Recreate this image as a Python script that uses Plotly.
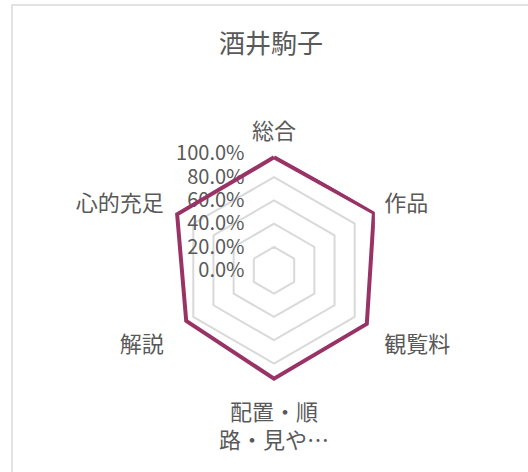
import plotly.graph_objects as go

title = "酒井駒子"
categories = ["総合", "作品", "観覧料", "配置・順<br>路・見や…", "解説", "心的充足"]
values = [0.97, 0.99, 0.92, 0.93, 0.87, 0.96]
tick_vals = [0, 0.2, 0.4, 0.6, 0.8, 1.0]
tick_text = ["0.0%", "20.0%", "40.0%", "60.0%", "80.0%", "100.0%"]

W, H = 528, 472
font_family = "Noto Sans CJK JP"
text_color = "#595959"

fig = go.Figure()
fig.add_trace(go.Scatterpolar(
    r=values + values[:1],
    theta=categories + categories[:1],
    mode="lines",
    line=dict(color="#993366", width=4),
    showlegend=False,
    hoverinfo="skip",
))

cx, cy, R = 274, 270.3, 116.5
fig.update_layout(
    width=W, height=H,
    margin=dict(l=0, r=0, t=0, b=0),
    paper_bgcolor="white",
    plot_bgcolor="white",
    font=dict(family=font_family, color=text_color, size=20),
    title=dict(text=title, x=271 / W, y=1 - 43.5 / H, xanchor="center", yanchor="middle",
               font=dict(size=26, color=text_color, family=font_family)),
    polar=dict(
        domain=dict(x=[(cx - R) / W, (cx + R) / W], y=[(H - cy - R) / H, (H - cy + R) / H]),
        bgcolor="white",
        gridshape="linear",
        radialaxis=dict(
            range=[0, 1], tickvals=tick_vals, ticktext=tick_text,
            angle=90, tickangle=90, side="counterclockwise",
            showline=False, ticks="outside", ticklen=22, tickcolor="rgba(0,0,0,0)",
            showgrid=True, gridcolor="#D9D9D9", gridwidth=1.8,
            tickfont=dict(size=20, color=text_color),
            layer="below traces",
        ),
        angularaxis=dict(
            rotation=90, direction="clockwise",
            showline=False, showgrid=False,
            ticks="outside", ticklen=6, tickcolor="rgba(0,0,0,0)",
            tickfont=dict(size=22, color=text_color),
        ),
    ),
    shapes=[dict(type="rect", xref="paper", yref="paper",
                 x0=12 / W, x1=1.2, y0=-0.2, y1=1 - 5 / H,
                 line=dict(color="#D9D9D9", width=1.5), fillcolor="rgba(0,0,0,0)", layer="below")],
)

fig.write_html("out.html", config={"displayModeBar": False},
               post_script="document.body.style.margin='0';")
